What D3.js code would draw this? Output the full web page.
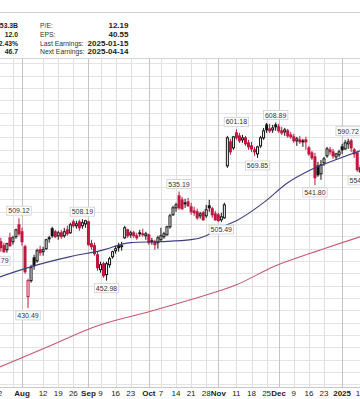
<!DOCTYPE html>
<html>
<head>
<meta charset="utf-8">
<script src="https://d3js.org/d3.v7.min.js"></script>
<style>
html,body{margin:0;padding:0;background:#fff;}
svg{display:block;font-family:"Liberation Sans",Arial,Helvetica,sans-serif;}
</style>
</head>
<body>
<svg id="chart" width="360" height="399"></svg>
<script>
// ---------------- DATA ----------------
const dates = [
"2024-07-22","2024-07-23","2024-07-24","2024-07-25","2024-07-26","2024-07-29","2024-07-30","2024-07-31",
"2024-08-01","2024-08-02","2024-08-05","2024-08-06","2024-08-07","2024-08-08","2024-08-09","2024-08-12","2024-08-13","2024-08-14","2024-08-15","2024-08-16","2024-08-19","2024-08-20","2024-08-21","2024-08-22","2024-08-23","2024-08-26","2024-08-27","2024-08-28","2024-08-29","2024-08-30",
"2024-09-03","2024-09-04","2024-09-05","2024-09-06","2024-09-09","2024-09-10","2024-09-11","2024-09-12","2024-09-13","2024-09-16","2024-09-17","2024-09-18","2024-09-19","2024-09-20","2024-09-23","2024-09-24","2024-09-25","2024-09-26","2024-09-27","2024-09-30",
"2024-10-01","2024-10-02","2024-10-03","2024-10-04","2024-10-07","2024-10-08","2024-10-09","2024-10-10","2024-10-11","2024-10-14","2024-10-15","2024-10-16","2024-10-17","2024-10-18","2024-10-21","2024-10-22","2024-10-23","2024-10-24","2024-10-25","2024-10-28","2024-10-29","2024-10-30","2024-10-31",
"2024-11-01","2024-11-04","2024-11-05","2024-11-06","2024-11-07","2024-11-08","2024-11-11","2024-11-12","2024-11-13","2024-11-14","2024-11-15","2024-11-18","2024-11-19","2024-11-20","2024-11-21","2024-11-22","2024-11-25","2024-11-26","2024-11-27","2024-11-29",
"2024-12-02","2024-12-03","2024-12-04","2024-12-05","2024-12-06","2024-12-09","2024-12-10","2024-12-11","2024-12-12","2024-12-13","2024-12-16","2024-12-17","2024-12-18","2024-12-19","2024-12-20","2024-12-23","2024-12-24","2024-12-26","2024-12-27","2024-12-30","2024-12-31",
"2025-01-02","2025-01-03","2025-01-06","2025-01-07","2025-01-08","2025-01-10","2025-01-13"
];
const open = [
480.0,487.2,483.6,480.0,490.8,487.2,491.8,502.9,
496.4,482.7,439.6,453.0,472.8,470.2,480.0,478.2,480.9,489.9,499.2,496.4,492.7,495.4,492.7,498.2,495.4,505.7,502.0,505.7,502.0,503.8,
505.7,485.4,483.6,475.5,462.4,467.6,458.1,466.7,473.7,479.1,483.6,482.7,490.8,498.2,493.6,495.4,492.7,495.4,494.5,492.7,
493.6,487.2,487.2,486.3,489.0,491.8,493.6,501.0,512.4,519.1,530.9,526.9,523.0,525.0,520.1,516.2,515.3,511.4,514.3,511.4,521.1,518.2,513.3,
512.4,507.6,509.5,561.5,587.3,580.7,597.2,593.9,589.5,591.7,586.2,582.9,578.6,574.2,582.9,591.7,606.2,601.7,600.6,606.2,
604.0,599.5,598.3,599.5,595.0,592.8,588.4,589.5,587.3,589.5,580.7,575.3,571.0,561.5,553.2,564.7,572.1,578.6,576.4,571.0,573.2,
581.8,579.6,585.1,588.4,578.6,575.3,555.3
];
const high = [
489.0,490.8,486.3,486.3,495.4,492.7,499.2,509.12,
500.1,484.5,454.7,466.7,475.5,480.9,483.6,482.7,489.9,492.7,501.0,498.2,497.3,498.2,500.1,502.0,504.8,507.8,506.7,507.6,508.19,507.6,
506.7,489.0,486.3,478.2,469.3,469.3,469.3,473.7,479.1,483.6,486.3,487.2,502.0,499.2,497.3,497.3,495.4,498.2,499.2,496.4,
494.5,490.8,489.0,492.7,500.1,496.4,502.0,513.3,521.1,524.0,535.19,529.9,527.9,528.9,524.0,520.1,518.2,515.3,516.2,522.0,526.9,520.1,516.2,
514.3,514.3,524.0,593.9,590.6,593.9,601.18,597.2,595.0,593.9,589.5,587.3,581.8,583.0,593.9,602.8,608.4,607.4,606.2,608.89,
607.4,604.0,602.8,601.7,598.3,596.1,592.8,593.9,590.6,592.8,582.9,577.5,575.3,565.7,567.8,571.0,581.8,581.8,579.6,575.3,578.6,
585.1,589.5,590.72,590.5,580.7,577.5,562.6
];
const low = [
476.79,478.2,477.3,477.3,482.7,484.5,489.9,492.7,
483.6,458.9,430.49,451.3,462.4,468.4,474.6,474.6,480.0,486.3,490.8,490.8,489.0,489.9,490.8,492.7,494.5,500.1,499.2,497.3,499.2,500.1,
483.6,480.0,474.6,461.5,459.8,455.5,452.98,464.1,472.0,476.4,478.2,479.1,489.9,490.8,490.8,490.8,489.0,491.8,491.8,489.0,
484.5,484.5,480.0,480.9,488.1,489.9,492.7,499.2,511.4,515.3,517.2,517.2,519.1,520.1,512.4,511.4,507.6,508.6,506.7,509.5,515.3,509.5,506.7,
506.0,505.49,508.6,559.4,573.2,578.6,589.5,586.2,586.2,582.9,578.6,576.4,572.1,569.85,580.7,589.5,597.2,597.2,597.2,599.5,
597.2,595.0,593.9,591.7,590.6,586.2,582.9,585.1,581.8,578.6,572.1,567.8,541.80,550.1,547.0,561.5,570.0,573.2,568.9,567.8,571.0,
574.2,578.6,579.6,576.4,570.0,555.3,554.21
];
const close = [
487.2,481.8,478.2,485.4,483.6,490.8,498.2,494.5,
487.2,460.6,453.0,464.1,465.8,479.1,477.3,480.0,489.0,490.8,492.7,491.8,495.4,491.8,496.4,494.5,502.9,502.0,503.8,500.1,504.8,506.7,
484.5,482.7,476.4,464.1,466.7,457.2,467.6,472.0,478.2,480.9,481.8,483.6,500.1,492.7,495.4,492.7,490.8,494.5,493.6,494.5,
486.3,488.1,484.5,490.8,492.7,494.5,501.0,511.4,519.1,522.0,519.1,518.2,524.0,521.1,515.3,514.3,509.5,513.3,507.6,517.2,519.1,512.4,507.6,
506.7,510.5,522.0,591.7,576.4,592.8,591.7,588.4,591.7,585.1,581.8,579.6,576.4,581.8,591.7,599.5,600.6,599.5,602.8,604.0,
599.5,597.2,600.6,593.9,592.8,588.4,590.6,587.3,588.4,587.3,574.2,570.0,549.1,552.2,562.6,568.9,579.6,576.4,572.1,574.2,576.4,
578.6,586.2,587.3,580.7,574.2,557.3,559.4
];

// 50-day and 200-day moving averages
const ma50Dates  = ["2024-07-22","2024-08-05","2024-08-23","2024-09-09","2024-09-23","2024-10-07","2024-10-21","2024-10-28","2024-11-01","2024-11-11","2024-11-22","2024-12-05","2024-12-16","2024-12-27","2025-01-13"];
const ma50Values = [455.6,464.2,473.8,479.2,486.4,487.3,489.1,492.8,499.2,506.7,524.2,544.0,556.3,566.8,577.5];
const ma200Dates  = ["2024-07-22","2024-08-12","2024-09-09","2024-10-01","2024-10-21","2024-11-11","2024-11-29","2024-12-17","2025-01-13"];
const ma200Values = [384.9,398.8,417.1,427.4,437.3,449.5,465.8,477.2,491.7];

// High / low annotations
const markDates  = ["2024-07-22","2024-07-31","2024-08-05","2024-08-29","2024-09-11","2024-10-15","2024-11-04","2024-11-11","2024-11-20","2024-11-29","2024-12-18","2025-01-06","2025-01-13"];
const markValues = [476.79,509.12,430.49,508.19,452.98,535.19,505.49,601.18,569.85,608.89,541.80,590.72,554.21];
const markSides  = ["low","high","low","high","low","high","low","high","low","high","low","high","low"];

// x-axis ticks (an empty label = grid line only)
const tickDates  = ["2024-07-22","2024-07-29","2024-08-01","2024-08-12","2024-08-19","2024-08-26","2024-09-03","2024-09-09","2024-09-16","2024-09-23","2024-10-01","2024-10-07","2024-10-14","2024-10-21","2024-10-28","2024-11-01","2024-11-11","2024-11-18","2024-11-25","2024-12-02","2024-12-09","2024-12-16","2024-12-23","2025-01-02","2025-01-13"];
const tickLabels = ["22","","Aug","12","19","26","Sep","9","16","23","Oct","7","14","21","28","Nov","11","18","25","Dec","9","16","23","2025","13"];

// horizontal grid prices (log-scale grid levels, as seen on the chart)
const gridPrices = [680.0,664.5,649.3,634.5,620.0,605.9,592.1,578.5,565.3,552.4,539.8,527.5,515.5,503.7,492.2,481.0,470.0,459.3,448.8,438.6,428.6,418.8,409.2,399.9,390.8,381.9,373.1];

// header stats
const statLeftValues = ["153.3B","12.0","2.43%","46.7"];
const statNames  = ["P/E:","EPS:","Last Earnings:","Next Earnings:"];
const statValues = ["12.19","40.55","2025-01-15","2025-04-14"];

// ---------------- DRAW ----------------
const W = 360, H = 399;
const plot = {top: 59, bottom: 387, left: 0, right: 360};
const RED = "#c0163f", BLK = "#111";
const svg = d3.select("#chart");

const x = d3.scalePoint().domain(dates).range([-2.16, -2.16 + 3.02 * (dates.length - 1)]);
const y = d3.scaleLog().domain([371.3, 685.7]).range([plot.bottom, plot.top]);

// header
svg.append("line").attr("x1", 0).attr("x2", W).attr("y1", 12.5).attr("y2", 12.5)
  .attr("stroke", "#d0d0d0").attr("stroke-width", 1);
const rowY = [28.3, 36.9, 45.6, 54.3];
const hdr = svg.append("g").attr("fill", "#222");
statLeftValues.forEach((t, i) => hdr.append("text").attr("x", 18).attr("y", rowY[i])
  .attr("text-anchor", "end").attr("font-weight", "bold").attr("font-size", 6.8).text(t));
statNames.forEach((t, i) => hdr.append("text").attr("x", 40).attr("y", rowY[i])
  .attr("font-size", 6.8).attr("fill", "#333").text(t));
statValues.forEach((t, i) => hdr.append("text").attr("x", 128.5).attr("y", rowY[i])
  .attr("text-anchor", "end").attr("font-weight", "bold").attr("font-size", 8).text(t));

// clip
svg.append("defs").append("clipPath").attr("id", "clip")
  .append("rect").attr("x", plot.left).attr("y", plot.top).attr("width", plot.right - plot.left).attr("height", plot.bottom - plot.top);

const g = svg.append("g").attr("clip-path", "url(#clip)");

// grid
g.selectAll(".hg").data(gridPrices).enter().append("line")
  .attr("x1", plot.left).attr("x2", plot.right)
  .attr("y1", d => Math.round(y(d)) + 0.5).attr("y2", d => Math.round(y(d)) + 0.5)
  .attr("stroke", "#e4e4e4").attr("stroke-width", 1);
const isMajor = l => l !== "" && (isNaN(+l) || l === "2025");
g.selectAll(".vg").data(tickDates).enter().append("line")
  .attr("x1", d => Math.round(x(d)) + 0.5).attr("x2", d => Math.round(x(d)) + 0.5)
  .attr("y1", plot.top).attr("y2", plot.bottom)
  .attr("stroke", (d, i) => isMajor(tickLabels[i]) ? "#c4c4c4" : "#e0e0e0").attr("stroke-width", 1);

// borders
svg.append("line").attr("x1", 0).attr("x2", W).attr("y1", plot.top - 0.5).attr("y2", plot.top - 0.5).attr("stroke", "#d4d4d4");
svg.append("line").attr("x1", 0).attr("x2", W).attr("y1", plot.bottom + 0.5).attr("y2", plot.bottom + 0.5).attr("stroke", "#c8c8c8");

// MA lines
const lineGen = d3.line().x(d => x(d[0])).y(d => y(d[1])).curve(d3.curveMonotoneX);
g.append("path").datum(d3.zip(ma200Dates, ma200Values)).attr("d", lineGen)
  .attr("fill", "none").attr("stroke", "#c45a6c").attr("stroke-width", 1.1);

// candles
const candles = dates.map((d, i) => ({d, o: open[i], h: high[i], l: low[i], c: close[i], pc: i > 0 ? close[i - 1] : open[i]}));
const cg = g.append("g");
candles.forEach(k => {
  const col = k.c < k.pc ? RED : BLK;
  const hollow = k.c >= k.o;
  const cx = x(k.d);
  cg.append("line").attr("x1", cx).attr("x2", cx).attr("y1", y(k.h)).attr("y2", y(k.l))
    .attr("stroke", col).attr("stroke-width", 1);
  const top = y(Math.max(k.o, k.c)), bot = y(Math.min(k.o, k.c));
  const hgt = Math.max(1, bot - top);
  if (hollow) {
    cg.append("rect").attr("x", cx - 1).attr("y", top).attr("width", 2).attr("height", hgt)
      .attr("fill", "#fff").attr("stroke", col).attr("stroke-width", 1);
  } else {
    cg.append("rect").attr("x", cx - 1.5).attr("y", top - 0.5).attr("width", 3).attr("height", hgt + 1)
      .attr("fill", col);
  }
});

g.append("path").datum(d3.zip(ma50Dates, ma50Values)).attr("d", lineGen)
  .attr("fill", "none").attr("stroke", "#3c4080").attr("stroke-width", 1.1);

// annotations
const ag = svg.append("g").attr("font-size", 7).attr("fill", "#333");
markDates.forEach((d, i) => {
  const cx = x(d);
  const cy = markSides[i] === "high" ? y(markValues[i]) - 7.5 : y(markValues[i]) + 7.5;
  const grp = ag.append("g");
  const rect = grp.append("rect").attr("fill", "#fff").attr("stroke", "#cfcfcf").attr("stroke-width", 0.8);
  const t = grp.append("text").attr("x", cx).attr("y", cy + 2.5).attr("text-anchor", "middle").text(markValues[i].toFixed(2));
  const w = t.node().getComputedTextLength() + 3;
  rect.attr("x", cx - w / 2).attr("y", cy - 4.5).attr("width", w).attr("height", 9);
});

// x-axis labels
const xg = svg.append("g").attr("font-size", 8).attr("fill", "#222");
tickDates.forEach((d, i) => {
  if (!tickLabels[i]) return;
  xg.append("text").attr("x", x(d)).attr("y", 396).attr("text-anchor", "middle")
    .attr("font-weight", isMajor(tickLabels[i]) ? "bold" : "normal").text(tickLabels[i]);
});
</script>
</body>
</html>
